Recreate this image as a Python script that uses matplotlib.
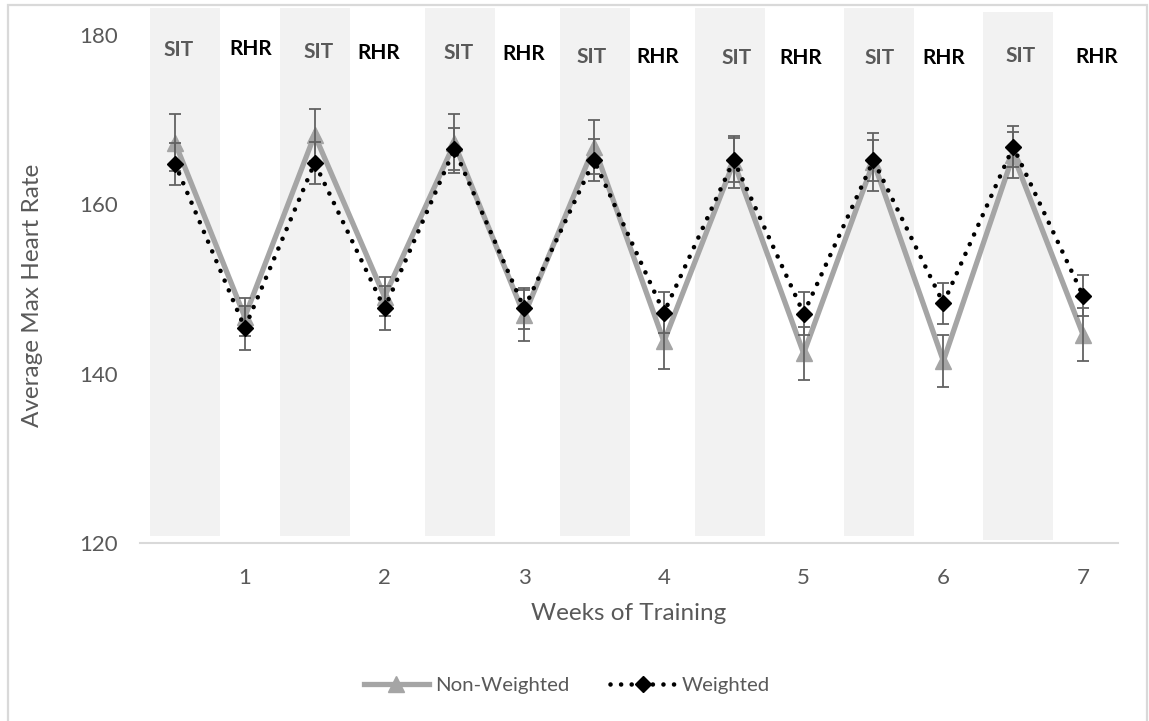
import matplotlib
matplotlib.use("Agg")
import matplotlib.pyplot as plt
from matplotlib.patches import Rectangle
from matplotlib.lines import Line2D

# ---- data ----
x_pos = [0.5, 1, 1.5, 2, 2.5, 3, 3.5, 4, 4.5, 5, 5.5, 6, 6.5, 7]
non_weighted = [167.3, 146.7, 168.2, 149.1, 167.2, 146.9, 166.8, 143.8, 165.0, 142.4, 165.0, 141.5, 165.8, 144.6]
non_weighted_err = [3.4, 2.2, 3.1, 2.3, 3.5, 3.0, 3.2, 3.2, 3.1, 3.1, 3.4, 3.1, 2.7, 3.1]
weighted = [164.8, 145.4, 164.9, 147.7, 166.5, 147.7, 165.2, 147.2, 165.2, 147.1, 165.2, 148.3, 166.8, 149.2]
weighted_err = [2.5, 2.6, 2.5, 2.6, 2.5, 2.4, 2.5, 2.4, 2.6, 2.5, 2.4, 2.4, 2.4, 2.4]
week_ticks = [1, 2, 3, 4, 5, 6, 7]
y_ticks = [120, 140, 160, 180]
phase_labels = ["SIT", "RHR"] * 7

# ---- layout (band and label placement) ----
band_left = [0.32, 1.254, 2.29, 3.256, 4.224, 5.29, 6.283]
band_width = 0.50
band_bottom = [120.8, 120.8, 120.8, 120.8, 120.8, 120.8, 120.35]
band_top = [183.2, 183.2, 183.2, 183.2, 183.2, 183.2, 182.7]
label_x = [0.523, 1.046, 1.527, 1.957, 2.531, 2.997, 3.485, 3.959, 4.518, 4.977, 5.544, 6.003, 6.556, 7.10]
label_y = [178.2, 178.3, 178.0, 177.85, 177.85, 177.75, 177.4, 177.4, 177.3, 177.3, 177.3, 177.3, 177.5, 177.4]

FONT = ["Lato", "DejaVu Sans"]
plt.rcParams["font.family"] = FONT
TXT = "#595959"
ERR = "#626262"

fig = plt.figure(figsize=(11.49, 7.21), dpi=100)
ax = fig.add_axes([140 / 1149, 178 / 721, (1118 - 140) / 1149, (543 - 35) / 721])
ax.set_xlim(0.25, 7.25)
ax.set_ylim(120, 180)

# shaded SIT bands
for bl, bb, bt in zip(band_left, band_bottom, band_top):
    ax.add_patch(Rectangle((bl, bb), band_width, bt - bb, facecolor="#f2f2f2",
                           edgecolor="none", zorder=0, clip_on=False))

# phase labels
for lab, lx, ly in zip(phase_labels, label_x, label_y):
    ax.text(lx, ly, lab, ha="center", va="center", fontsize=15, fontweight="bold",
            color=("#595959" if lab == "SIT" else "black"), zorder=6)

# series
l1, = ax.plot(x_pos, non_weighted, color="#a5a5a5", lw=3.8, marker="^", ms=11,
              mfc="#a5a5a5", mec="#a5a5a5", zorder=2, solid_joinstyle="miter")
ax.errorbar(x_pos, non_weighted, yerr=non_weighted_err, fmt="none", ecolor=ERR,
            elinewidth=1.3, capsize=4.3, capthick=1.3, zorder=3)
l2, = ax.plot(x_pos, weighted, color="black", lw=3.3, linestyle=(0, (0.01, 2.3)),
              dash_capstyle="round", marker="D", ms=7.8, mfc="black", mec="black", zorder=4)
ax.errorbar(x_pos, weighted, yerr=weighted_err, fmt="none", ecolor=ERR,
            elinewidth=1.3, capsize=4.3, capthick=1.3, zorder=3.5)

# axes styling
for s in ["left", "right", "top"]:
    ax.spines[s].set_visible(False)
ax.spines["bottom"].set_color("#d9d9d9")
ax.spines["bottom"].set_linewidth(1.5)
ax.set_xticks(week_ticks)
ax.set_xticklabels([str(w) for w in week_ticks])
ax.set_yticks(y_ticks)
ax.tick_params(axis="both", length=0, labelsize=16, labelcolor=TXT)
ax.tick_params(axis="y", pad=16)
ax.tick_params(axis="x", pad=18)
ax.set_xlabel("Weeks of Training", fontsize=17.5, color=TXT, labelpad=11)
ax.set_ylabel("Average Max Heart Rate", fontsize=17.5, color=TXT)
ax.yaxis.set_label_coords(-(140 - 43) / 978, 0.5 + (289 - 295) / 508)

# legend
h1 = Line2D([], [], color="#a5a5a5", lw=3.8, marker="^", ms=11, mfc="#a5a5a5", mec="#a5a5a5")
h2 = Line2D([], [], color="black", lw=3.3, linestyle=(0, (0.01, 2.3)), dash_capstyle="round",
            marker="D", ms=7.8, mfc="black", mec="black")
leg = fig.legend([h1, h2], ["Non-Weighted", "Weighted"], loc="center",
                 bbox_to_anchor=(567 / 1149, 1 - 685 / 721), ncol=2, frameon=False,
                 fontsize=14.7, handlelength=3.2, columnspacing=2.0, handletextpad=0.3)
for t in leg.get_texts():
    t.set_color(TXT)

# chart border
fig.add_artist(Rectangle((8 / 1149, -0.05), (1147 - 8) / 1149, 1.05 - 5 / 721,
                         transform=fig.transFigure, fill=False, edgecolor="#d9d9d9", lw=1.6))

fig.savefig("out.png", dpi=100)
